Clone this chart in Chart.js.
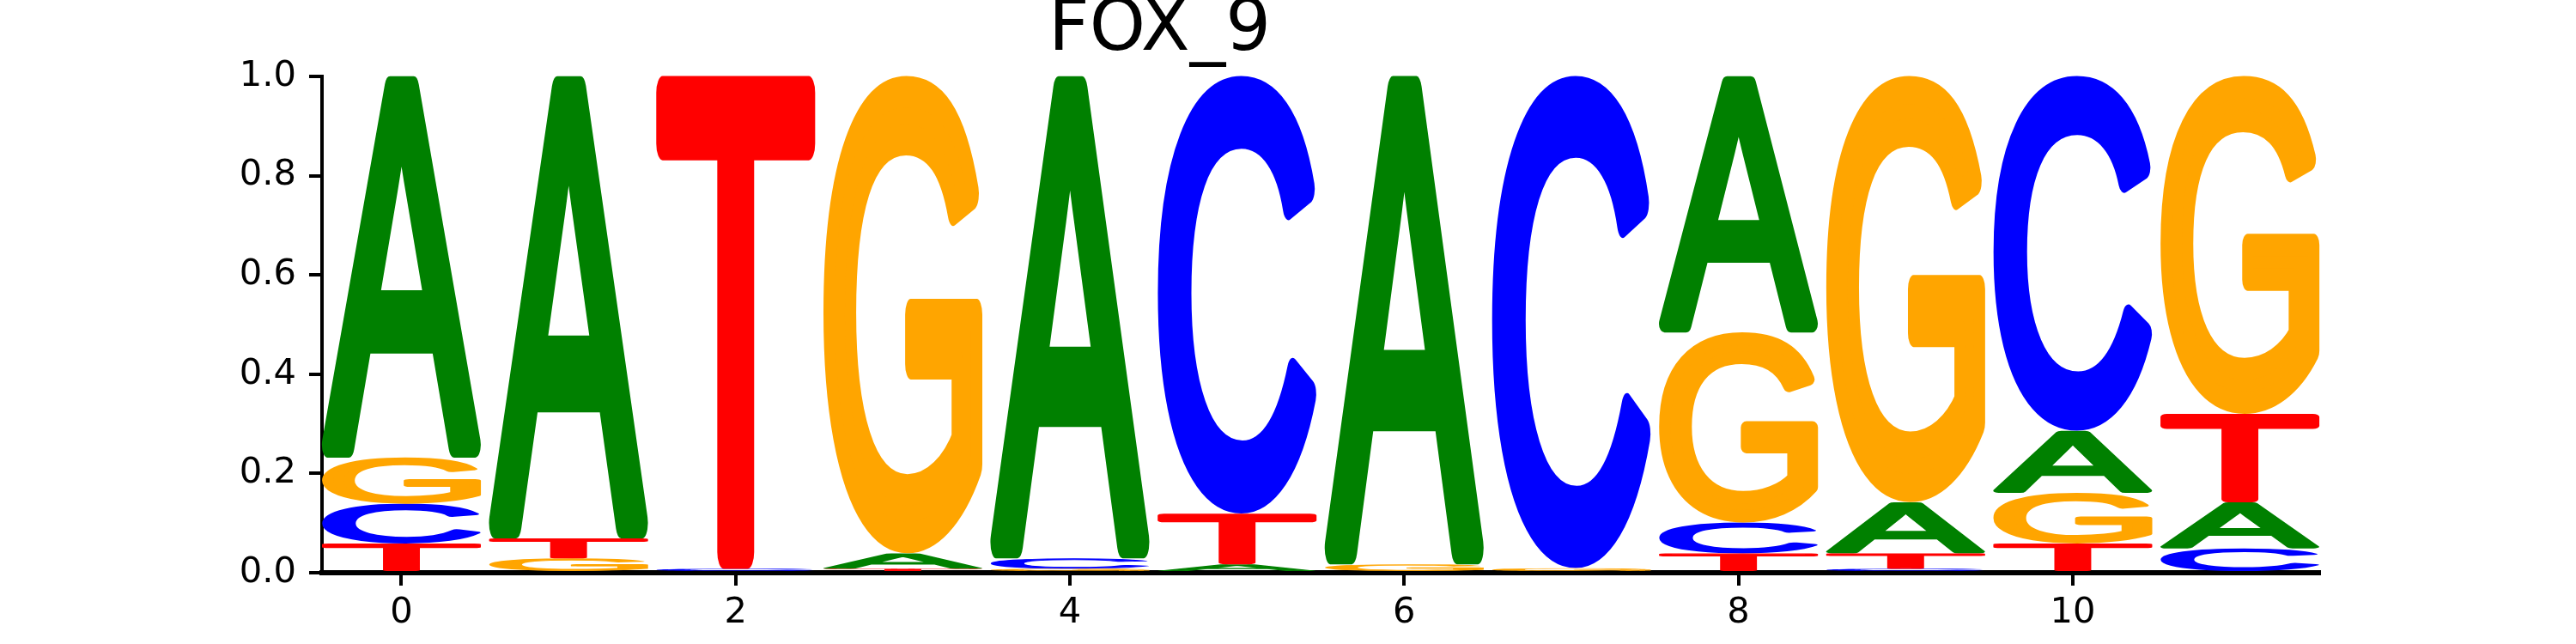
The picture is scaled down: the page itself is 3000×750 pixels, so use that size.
<!DOCTYPE html>
<html>
<head>
<meta charset="utf-8">
<script src="https://cdn.jsdelivr.net/npm/chart.js@4.4.1/dist/chart.umd.min.js"></script>
<style>
  html, body { margin: 0; padding: 0; background: #ffffff; }
  canvas { display: block; }
</style>
</head>
<body>
<canvas id="c" width="3000" height="750"></canvas>
<script>
const chartTitle = 'FOX_9';
const positions = [0, 1, 2, 3, 4, 5, 6, 7, 8, 9, 10, 11];
const letters = ['A', 'C', 'G', 'T'];
const probA = [0.768, 0.931, 0.000, 0.031, 0.971, 0.017, 0.983, 0.000, 0.516, 0.103, 0.125, 0.093];
const probC = [0.080, 0.000, 0.008, 0.000, 0.021, 0.881, 0.000, 0.991, 0.062, 0.008, 0.714, 0.049];
const probG = [0.093, 0.029, 0.000, 0.961, 0.008, 0.000, 0.017, 0.009, 0.383, 0.858, 0.102, 0.680];
const probT = [0.059, 0.040, 0.992, 0.008, 0.000, 0.102, 0.000, 0.000, 0.039, 0.031, 0.059, 0.178];
const xTickValues = [0, 2, 4, 6, 8, 10];
const yTickValues = [0.0, 0.2, 0.4, 0.6, 0.8, 1.0];

// ---- styles ----
const letterColors = { A: '#008000', C: '#0000ff', G: '#ffa500', T: '#ff0000' };
const probs = { A: probA, C: probC, G: probG, T: probT };

// stack letters per position: smallest at the bottom
const ranges = { A: [], C: [], G: [], T: [] };
positions.forEach((p, i) => {
  const items = letters.map(L => ({ L, v: probs[L][i] })).sort((a, b) => a.v - b.v);
  let acc = 0;
  items.forEach(it => {
    ranges[it.L][i] = [acc, acc + it.v];
    acc += it.v;
  });
});

const datasets = letters.map(L => ({
  label: L,
  data: positions.map((p, i) => ({ x: p, y: ranges[L][i] })),
  backgroundColor: 'rgba(0,0,0,0)',
  borderWidth: 0,
  grouped: false,
  barPercentage: 0.95,
  categoryPercentage: 1.0,
  glyph: L,
  glyphColor: letterColors[L]
}));

// ---- glyph rendering: letters stretched to fill each bar rectangle ----
const glyphSize = 400;
const glyphFont = 'normal ' + glyphSize + 'px "Liberation Sans"';
const glyphStroke = 0.05 * glyphSize;   // round outline to mimic rounded letter terminals
const glyphBoxCache = {};
function paintGlyph(ctx, L, x, y) {
  ctx.font = glyphFont;
  ctx.textAlign = 'left';
  ctx.textBaseline = 'alphabetic';
  ctx.lineWidth = glyphStroke;
  ctx.lineJoin = 'round';
  ctx.fillText(L, x, y);
  ctx.strokeText(L, x, y);
}
function glyphBox(L) {
  if (glyphBoxCache[L]) return glyphBoxCache[L];
  const S = 700, ox = 150, oy = 550;
  const cv = document.createElement('canvas');
  cv.width = S; cv.height = S;
  const c = cv.getContext('2d');
  c.fillStyle = '#000'; c.strokeStyle = '#000';
  paintGlyph(c, L, ox, oy);
  const d = c.getImageData(0, 0, S, S).data;
  let x0 = S, x1 = -1, y0 = S, y1 = -1;
  for (let yy = 0; yy < S; yy++) {
    for (let xx = 0; xx < S; xx++) {
      if (d[(yy * S + xx) * 4 + 3] >= 128) {
        if (xx < x0) x0 = xx; if (xx > x1) x1 = xx;
        if (yy < y0) y0 = yy; if (yy > y1) y1 = yy;
      }
    }
  }
  const box = { left: x0 - ox, top: y0 - oy, w: x1 - x0 + 1, h: y1 - y0 + 1 };
  glyphBoxCache[L] = box;
  return box;
}

const glyphPlugin = {
  id: 'glyphs',
  afterDatasetsDraw(chart) {
    const ctx = chart.ctx;
    chart.data.datasets.forEach((ds, di) => {
      const meta = chart.getDatasetMeta(di);
      const box = glyphBox(ds.glyph);
      meta.data.forEach((bar, i) => {
        const r = ds.data[i].y;
        if (!r || r[1] - r[0] <= 0) return;
        const pr = bar.getProps(['x', 'y', 'base', 'width'], true);
        const top = Math.min(pr.y, pr.base);
        const bottom = Math.max(pr.y, pr.base);
        const h = bottom - top;
        if (h <= 0.05) return;
        const left = pr.x - pr.width / 2;
        ctx.save();
        ctx.translate(left, top);
        ctx.scale(pr.width / box.w, h / box.h);
        ctx.fillStyle = ds.glyphColor;
        ctx.strokeStyle = ds.glyphColor;
        paintGlyph(ctx, ds.glyph, -box.left, -box.top);
        ctx.restore();
      });
    });
  }
};

const tickFont = { family: '"DejaVu Sans"', size: 41.67, weight: 'normal' };

new Chart(document.getElementById('c'), {
  type: 'bar',
  data: { datasets },
  options: {
    responsive: false,
    devicePixelRatio: 1,
    animation: false,
    layout: { padding: { left: 0, right: 299, top: 0, bottom: 0 } },
    plugins: {
      legend: { display: false },
      tooltip: { enabled: false },
      title: {
        display: true,
        text: chartTitle,
        color: '#000000',
        font: { family: '"DejaVu Sans"', size: 83, weight: 'normal', lineHeight: 0.8 },
        padding: { top: 3, bottom: 19.6 }
      }
    },
    scales: {
      x: {
        type: 'linear',
        min: -0.475,
        max: 11.475,
        offset: false,
        afterBuildTicks(scale) { scale.ticks = xTickValues.map(v => ({ value: v })); },
        afterFit(scale) { scale.height = 83; },
        ticks: { includeBounds: false, autoSkip: false, maxRotation: 0, color: '#000000', font: tickFont, padding: 7, callback: v => String(v) },
        grid: { display: true, offset: false, drawOnChartArea: false, drawTicks: true, tickLength: 15, tickWidth: 4, tickColor: '#000000', lineWidth: 4, color: '#000000' },
        border: { display: true, color: '#000000', width: 6 }
      },
      y: {
        type: 'linear',
        min: 0,
        max: 1,
        afterBuildTicks(scale) { scale.ticks = yTickValues.map(v => ({ value: v })); },
        afterFit(scale) { scale.width = 375; },
        ticks: { autoSkip: false, color: '#000000', font: tickFont, padding: 15, callback: v => Number(v).toFixed(1) },
        grid: { display: true, drawOnChartArea: false, drawTicks: true, tickLength: 15, tickWidth: 4, tickColor: '#000000', lineWidth: 4, color: '#000000' },
        border: { display: true, color: '#000000', width: 4 }
      }
    }
  },
  plugins: [glyphPlugin]
});
</script>
</body>
</html>
